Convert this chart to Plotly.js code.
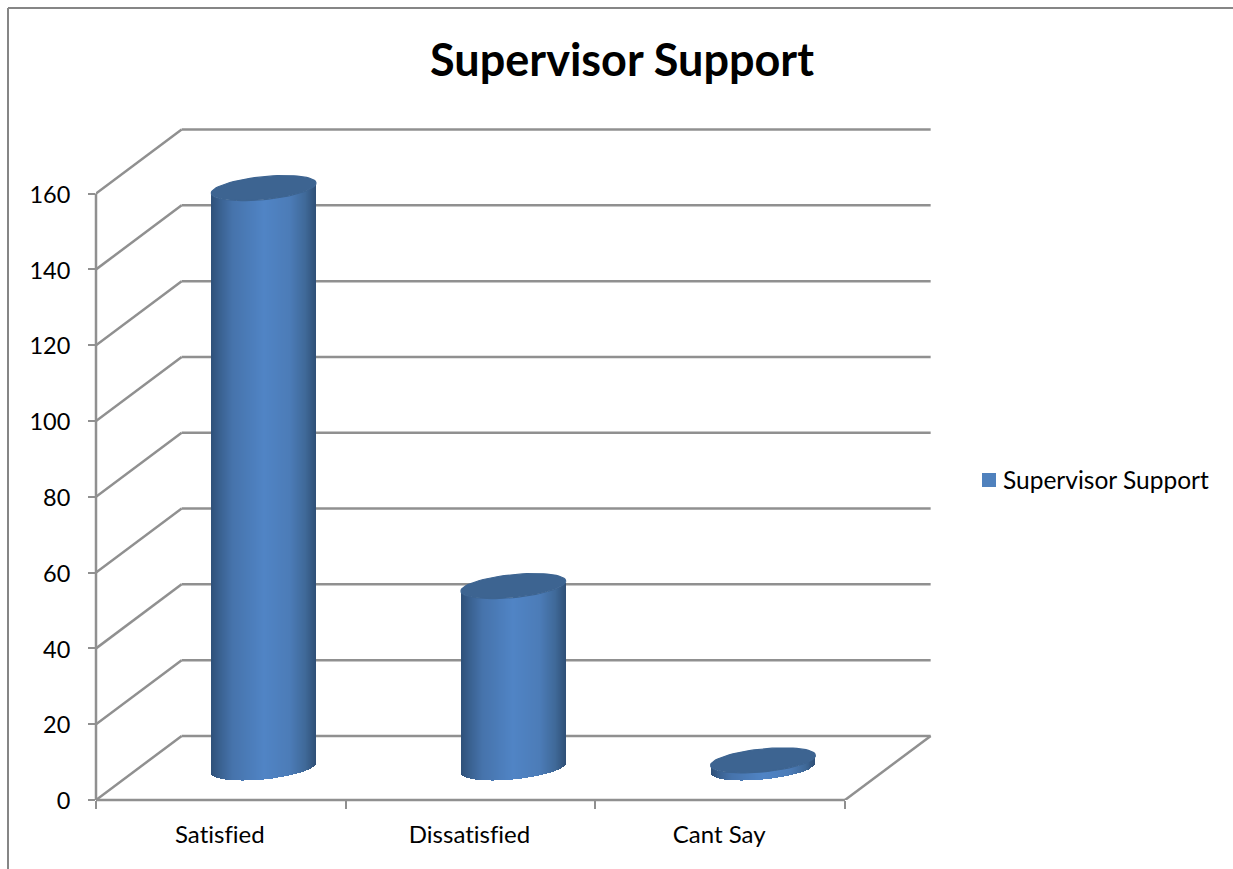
<!DOCTYPE html>
<html>
<head>
<meta charset="utf-8">
<script src="https://cdn.plot.ly/plotly-3.0.1.min.js"></script>
<style>
html,body{margin:0;padding:0;background:#fff}
#chart{width:1233px;height:869px}
#chart text{font-variant-ligatures:none !important;font-feature-settings:"liga" 0 !important}
/* Pull the legend swatch closer to its label */
#chart .legend .legendpoints{transform:translate(6px,0)}
</style>
</head>
<body>
<div id="chart"></div>
<script>
// Chart content
const chartTitle = 'Supervisor Support';
const seriesName = 'Supervisor Support';
const categories = ['Satisfied', 'Dissatisfied', 'Cant Say'];
const values = [153, 48, 2];
const yTicks = [0, 20, 40, 60, 80, 100, 120, 140, 160];

// Oblique projection of the chart box, in axis units
const depthX = 0.343;
const depthY = 16.9;
const radiusX = 0.21;
const tiltY = 1.32;
const minorY = 3.03;
const stripCount = 106;

const gridColor = '#909090';
const gridWidth = 2.5;
const capColor = '#3d6491';
const fontFamily = 'Lato, "Open Sans", sans-serif';

// Side shading of a cylinder: dark edges, bright centre
const shadeStops = [
  [0.00, [46, 80, 121]], [0.08, [57, 96, 143]], [0.20, [70, 115, 171]],
  [0.50, [80, 132, 197]], [0.75, [76, 124, 184]], [0.90, [63, 105, 152]],
  [1.00, [47, 79, 118]]
];
function shade(t) {
  for (let i = 1; i < shadeStops.length; i++) {
    const [t0, c0] = shadeStops[i - 1], [t1, c1] = shadeStops[i];
    if (t <= t1) {
      const f = (t - t0) / (t1 - t0);
      return 'rgb(' + c0.map((c, j) => Math.round(c + (c1[j] - c) * f)).join(',') + ')';
    }
  }
  return 'rgb(47,79,118)';
}

const traces = [];
values.forEach((value, i) => {
  const cx = i + 0.5 + depthX / 2;
  const baseY = depthY / 2;
  const xs = [], bases = [], heights = [], colors = [];
  for (let s = 0; s < stripCount; s++) {
    const t = (s + 0.5) / stripCount;
    const u = 2 * t - 1;
    xs.push(cx + u * radiusX);
    bases.push(baseY + tiltY * u - minorY * Math.sqrt(1 - u * u));
    heights.push(value);
    colors.push(shade(t));
  }
  traces.push({
    type: 'bar', x: xs, y: heights, base: bases, width: 2 * radiusX / stripCount,
    marker: {color: colors, line: {width: 0}}, showlegend: false, hoverinfo: 'skip'
  });
  // Top face of the cylinder
  const capX = [], capY = [];
  for (let a = 0; a <= 72; a++) {
    const th = a / 72 * 2 * Math.PI;
    capX.push(cx + radiusX * Math.cos(th));
    capY.push(baseY + value + tiltY * Math.cos(th) + minorY * Math.sin(th));
  }
  traces.push({
    type: 'scatter', mode: 'lines', x: capX, y: capY, fill: 'toself',
    fillcolor: capColor, line: {color: capColor, width: 1.2},
    showlegend: false, hoverinfo: 'skip'
  });
});

// Legend entry and the helper trace that keeps the tick-mark axis alive
traces.push({
  type: 'scatter', mode: 'markers', x: [null], y: [null], name: seriesName,
  marker: {symbol: 'square', size: 14, color: '#4f81bd'}, showlegend: true
});
traces.push({
  type: 'scatter', mode: 'markers', x: [null], y: [null], xaxis: 'x2',
  showlegend: false, hoverinfo: 'skip'
});

const W = 1233, H = 869;
const M = {l: 96, r: 292, t: 119, b: 69};
const unitsPerPxX = 1 / 249.67, unitsPerPxY = 1 / 3.79;
const xTop = (W - M.l - M.r) * unitsPerPxX;
const yTop = (H - M.t - M.b) * unitsPerPxY;
const xMax = categories.length;

// Walls, floor and gridlines sit beneath the cylinders
const gridLine = {color: gridColor, width: gridWidth};
function segment(x0, y0, x1, y1) {
  return {type: 'line', xref: 'x', yref: 'y', x0, y0, x1, y1, layer: 'below', line: gridLine};
}
const shapes = [];
yTicks.forEach(v => {
  shapes.push(segment(0, v, depthX, v + depthY));
  shapes.push(segment(depthX, v + depthY, xMax + depthX, v + depthY));
});
shapes.push(segment(xMax, 0, xMax + depthX, depthY));

// Axis lines run along the plot edge, so they are placed unclipped in paper units
shapes.push({type: 'line', xref: 'paper', yref: 'paper', layer: 'below', line: gridLine,
             x0: 0, x1: 0, y0: 0, y1: yTicks[yTicks.length - 1] / yTop});
shapes.push({type: 'line', xref: 'paper', yref: 'paper', layer: 'below', line: gridLine,
             x0: 0, x1: xMax / xTop, y0: 0, y1: 0});

// Frame of the chart area, cut by the page edge on the right and at the bottom
const px = p => (p - M.l) / (W - M.l - M.r);
const py = p => (H - M.b - p) / (H - M.t - M.b);
shapes.push({type: 'line', xref: 'paper', yref: 'paper', x0: px(8), x1: px(8), y0: py(8), y1: py(H),
             line: {color: '#868686', width: 2}});
shapes.push({type: 'line', xref: 'paper', yref: 'paper', x0: px(8), x1: px(W), y0: py(8), y1: py(8),
             line: {color: '#868686', width: 2}});

const layout = {
  width: W, height: H, margin: M, autosize: false,
  paper_bgcolor: '#fff', plot_bgcolor: 'rgba(0,0,0,0)',
  barmode: 'overlay', bargap: 0,
  title: {text: chartTitle, x: 622 / W, xanchor: 'center', y: 1 - 60 / H, yanchor: 'middle',
          font: {family: fontFamily, size: 45, weight: 700, color: '#000'}},
  xaxis: {
    range: [0, xTop], tickmode: 'array',
    tickvals: categories.map((c, i) => i + 0.5), ticktext: categories,
    ticks: '', showgrid: false, zeroline: false, showline: false,
    tickfont: {family: fontFamily, size: 24, color: '#000'}, ticklabelstandoff: 18, ticklabelshift: -1
  },
  xaxis2: {
    range: [0, xTop], overlaying: 'x', anchor: 'y', side: 'bottom',
    tickmode: 'array', tickvals: categories.map((c, i) => i).concat(xMax),
    showticklabels: false, ticks: 'outside', ticklen: 8, tickwidth: 2, tickcolor: gridColor,
    showgrid: false, zeroline: false, showline: false
  },
  yaxis: {
    range: [0, yTop], tickmode: 'array', tickvals: yTicks,
    ticks: 'outside', ticklen: 7, tickwidth: 2, tickcolor: gridColor,
    showgrid: false, zeroline: false, showline: false,
    tickfont: {family: fontFamily, size: 23.5, color: '#000'}, ticklabelstandoff: 13, ticklabelshift: 1
  },
  legend: {xref: 'container', yref: 'container', x: 963 / W, y: 1 - 480 / H,
           xanchor: 'left', yanchor: 'middle', bgcolor: 'rgba(0,0,0,0)',
           font: {family: fontFamily, size: 24.5, color: '#000'}},
  shapes
};

Plotly.newPlot('chart', traces, layout, {displayModeBar: false, staticPlot: true});
</script>
</body>
</html>
